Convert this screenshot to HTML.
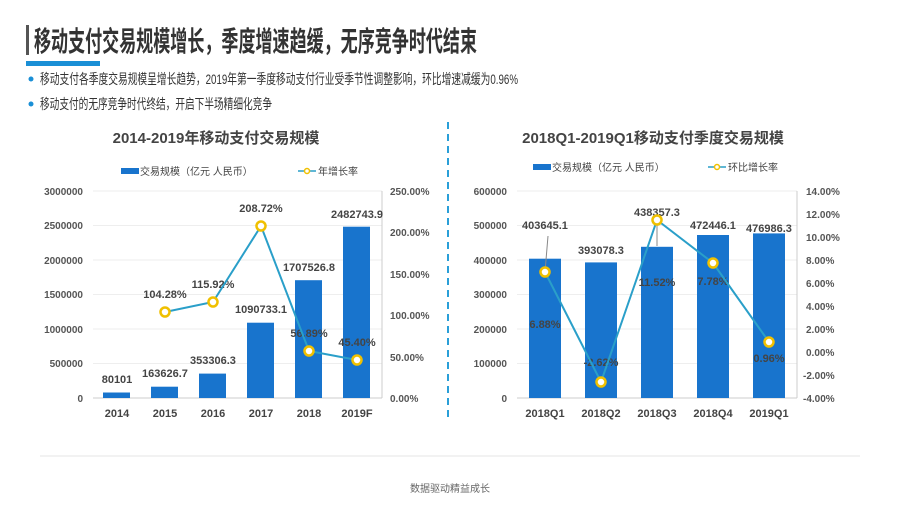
<!DOCTYPE html>
<html><head><meta charset="utf-8"><style>
body{margin:0;width:900px;height:507px;background:#fff;overflow:hidden;font-family:"Liberation Sans","Noto Sans CJK SC",sans-serif;}
</style></head><body>
<svg width="900" height="507" xmlns="http://www.w3.org/2000/svg" font-family="Liberation Sans, Noto Sans CJK SC, sans-serif">
<rect x="26" y="25" width="3" height="30" fill="#555"/>
<text x="34" y="51" font-size="28" font-weight="bold" fill="#333" textLength="443" lengthAdjust="spacingAndGlyphs">移动支付交易规模增长，季度增速趋缓，无序竞争时代结束</text>
<rect x="26" y="61" width="74" height="5" fill="#1a8fd6"/>
<circle cx="31" cy="79" r="2.5" fill="#1a8fd6"/>
<text x="40" y="84" font-size="14" fill="#333" textLength="478" lengthAdjust="spacingAndGlyphs">移动支付各季度交易规模呈增长趋势，2019年第一季度移动支付行业受季节性调整影响，环比增速减缓为0.96%</text>
<circle cx="31" cy="104" r="2.5" fill="#1a8fd6"/>
<text x="40" y="109" font-size="14" fill="#333" textLength="232" lengthAdjust="spacingAndGlyphs">移动支付的无序竞争时代终结，开启下半场精细化竞争</text>
<line x1="448" y1="122" x2="448" y2="420" stroke="#2a9fd8" stroke-width="2" stroke-dasharray="7,5"/>
<line x1="40" y1="456" x2="860" y2="456" stroke="#e6e6e6"/>
<text x="450" y="492" font-size="10" fill="#666" text-anchor="middle">数据驱动精益成长</text>

<!-- Left chart -->
<text x="216" y="143" font-size="15" font-weight="bold" fill="#444" text-anchor="middle">2014-2019年移动支付交易规模</text>
<rect x="121" y="168" width="18" height="6" fill="#1874cd"/>
<text x="140" y="175" font-size="10" fill="#444">交易规模（亿元 人民币）</text>
<line x1="298" y1="171" x2="316" y2="171" stroke="#2a9fc9" stroke-width="1.5"/><circle cx="307" cy="171" r="2.5" fill="#fff" stroke="#f0c000" stroke-width="1.5"/>
<text x="318" y="175" font-size="10" fill="#444">年增长率</text>
<g stroke="#eee"><line x1="93" y1="191" x2="382" y2="191"/><line x1="93" y1="225.5" x2="382" y2="225.5"/><line x1="93" y1="260" x2="382" y2="260"/><line x1="93" y1="294.5" x2="382" y2="294.5"/><line x1="93" y1="329" x2="382" y2="329"/><line x1="93" y1="363.5" x2="382" y2="363.5"/></g>
<line x1="93" y1="398" x2="382" y2="398" stroke="#ccc"/>
<line x1="382" y1="191" x2="382" y2="398" stroke="#ccc"/>
<g font-size="10" font-weight="bold" fill="#555" text-anchor="end">
<text x="83" y="195">3000000</text><text x="83" y="229">2500000</text><text x="83" y="264">2000000</text><text x="83" y="298">1500000</text><text x="83" y="333">1000000</text><text x="83" y="367">500000</text><text x="83" y="402">0</text></g>
<g font-size="10" font-weight="bold" fill="#555">
<text x="390" y="195">250.00%</text><text x="390" y="236">200.00%</text><text x="390" y="278">150.00%</text><text x="390" y="319">100.00%</text><text x="390" y="361">50.00%</text><text x="390" y="402">0.00%</text></g>
<g fill="#1874cd">
<rect x="103" y="392.5" width="27" height="5.5"/><rect x="151" y="386.7" width="27" height="11.3"/><rect x="199" y="373.6" width="27" height="24.4"/><rect x="247" y="322.7" width="27" height="75.3"/><rect x="295" y="280.2" width="27" height="117.8"/><rect x="343" y="226.7" width="27" height="171.3"/></g>
<g font-size="11" font-weight="bold" fill="#444" text-anchor="middle">
<text x="117" y="383">80101</text><text x="165" y="377">163626.7</text><text x="213" y="364">353306.3</text><text x="261" y="313">1090733.1</text><text x="309" y="271">1707526.8</text><text x="357" y="218">2482743.9</text>
<text x="165" y="298">104.28%</text><text x="213" y="288">115.92%</text><text x="261" y="212">208.72%</text><text x="309" y="337">56.89%</text><text x="357" y="346">45.40%</text></g>
<polyline points="165,312 213,302 261,226 309,351 357,360" fill="none" stroke="#2a9fc9" stroke-width="2"/>
<g fill="#fff" stroke="#f0c000" stroke-width="2.5"><circle cx="165" cy="312" r="4.5"/><circle cx="213" cy="302" r="4.5"/><circle cx="261" cy="226" r="4.5"/><circle cx="309" cy="351" r="4.5"/><circle cx="357" cy="360" r="4.5"/></g>
<g font-size="11" font-weight="bold" fill="#444" text-anchor="middle">
<text x="117" y="417">2014</text><text x="165" y="417">2015</text><text x="213" y="417">2016</text><text x="261" y="417">2017</text><text x="309" y="417">2018</text><text x="357" y="417">2019F</text></g>

<!-- Right chart -->
<text x="653" y="143" font-size="15" font-weight="bold" fill="#444" text-anchor="middle">2018Q1-2019Q1移动支付季度交易规模</text>
<rect x="533" y="164" width="18" height="6" fill="#1874cd"/>
<text x="552" y="171" font-size="10" fill="#444">交易规模（亿元 人民币）</text>
<line x1="708" y1="167" x2="726" y2="167" stroke="#2a9fc9" stroke-width="1.5"/><circle cx="717" cy="167" r="2.5" fill="#fff" stroke="#f0c000" stroke-width="1.5"/>
<text x="728" y="171" font-size="10" fill="#444">环比增长率</text>
<g stroke="#eee"><line x1="517" y1="191" x2="797" y2="191"/><line x1="517" y1="225.5" x2="797" y2="225.5"/><line x1="517" y1="260" x2="797" y2="260"/><line x1="517" y1="294.5" x2="797" y2="294.5"/><line x1="517" y1="329" x2="797" y2="329"/><line x1="517" y1="363.5" x2="797" y2="363.5"/></g>
<line x1="517" y1="398" x2="797" y2="398" stroke="#ccc"/>
<line x1="797" y1="191" x2="797" y2="398" stroke="#ccc"/>
<g font-size="10" font-weight="bold" fill="#555" text-anchor="end">
<text x="507" y="195">600000</text><text x="507" y="229">500000</text><text x="507" y="264">400000</text><text x="507" y="298">300000</text><text x="507" y="333">200000</text><text x="507" y="367">100000</text><text x="507" y="402">0</text></g>
<g font-size="10" font-weight="bold" fill="#555">
<text x="806" y="195">14.00%</text><text x="806" y="218">12.00%</text><text x="806" y="241">10.00%</text><text x="806" y="264">8.00%</text><text x="806" y="287">6.00%</text><text x="806" y="310">4.00%</text><text x="806" y="333">2.00%</text><text x="806" y="356">0.00%</text><text x="803" y="379">-2.00%</text><text x="803" y="402">-4.00%</text></g>
<g fill="#1874cd">
<rect x="529" y="258.7" width="32" height="139.3"/><rect x="585" y="262.4" width="32" height="135.6"/><rect x="641" y="246.8" width="32" height="151.2"/><rect x="697" y="235" width="32" height="163"/><rect x="753" y="233.4" width="32" height="164.6"/></g>
<g stroke="#888"><line x1="545" y1="272" x2="548" y2="236"/><line x1="657" y1="220" x2="657" y2="246"/></g>
<g font-size="11" font-weight="bold" fill="#444" text-anchor="middle">
<text x="545" y="229">403645.1</text><text x="601" y="254">393078.3</text><text x="657" y="216">438357.3</text><text x="713" y="229">472446.1</text><text x="769" y="232">476986.3</text>
<text x="545" y="328">6.88%</text><text x="601" y="366">-2.62%</text><text x="657" y="286">11.52%</text><text x="713" y="285">7.78%</text><text x="769" y="362">0.96%</text></g>
<polyline points="545,272 601,382 657,220 713,263 769,342" fill="none" stroke="#2a9fc9" stroke-width="2"/>
<g fill="#fff" stroke="#f0c000" stroke-width="2.5"><circle cx="545" cy="272" r="4.5"/><circle cx="601" cy="382" r="4.5"/><circle cx="657" cy="220" r="4.5"/><circle cx="713" cy="263" r="4.5"/><circle cx="769" cy="342" r="4.5"/></g>
<g font-size="11" font-weight="bold" fill="#444" text-anchor="middle">
<text x="545" y="417">2018Q1</text><text x="601" y="417">2018Q2</text><text x="657" y="417">2018Q3</text><text x="713" y="417">2018Q4</text><text x="769" y="417">2019Q1</text></g>
</svg>
</body></html>
